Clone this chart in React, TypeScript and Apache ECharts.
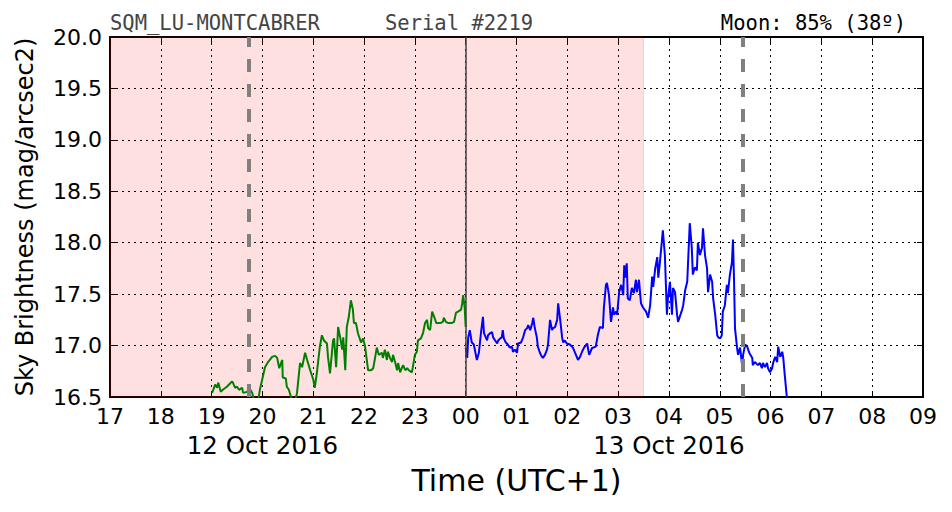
import React, { useEffect, useRef } from 'react';
import * as echarts from 'echarts';

// Hours counted from 00:00 of 12 Oct 2016 (24 = 00:00 of 13 Oct)
const xMin = 17;
const xMax = 33;
const xTickLabels = ['17', '18', '19', '20', '21', '22', '23', '00', '01', '02', '03', '04', '05', '06', '07', '08', '09'];
const dateLabels: Record<number, string> = { 20: '12 Oct 2016', 28: '13 Oct 2016' };
const yMin = 16.5;
const yMax = 20.0;
const yStep = 0.5;

const nightSpan = [17, 27.5];
const dashedMarks = [19.74, 29.46];
const midnightMark = 24;

const titleLeft = 'SQM_LU-MONTCABRER';
const titleSerial = 'Serial #2219';
const titleMoon = 'Moon: 85% (38º)';
const yAxisName = 'Sky Brightness (mag/arcsec2)';
const xAxisName = 'Time (UTC+1)';

const greenData: [number, number][] = [
  [19.01, 16.54], [19.07, 16.62], [19.11, 16.59], [19.13, 16.64], [19.18, 16.55], [19.22, 16.57],
  [19.30, 16.60], [19.40, 16.65], [19.42, 16.64], [19.46, 16.59], [19.50, 16.60], [19.54, 16.57],
  [19.60, 16.59], [19.62, 16.54], [19.70, 16.55], [19.74, 16.59], [19.80, 16.54], [19.83, 16.47],
  [19.91, 16.45], [19.95, 16.57], [20.05, 16.79], [20.11, 16.84], [20.19, 16.89], [20.25, 16.90],
  [20.29, 16.88], [20.33, 16.78], [20.39, 16.86], [20.40, 16.69], [20.46, 16.68], [20.48, 16.60],
  [20.52, 16.57], [20.58, 16.47], [20.64, 16.45], [20.68, 16.54], [20.74, 16.83], [20.78, 16.79],
  [20.84, 16.93], [20.88, 16.86], [20.94, 16.76], [21.00, 16.67], [21.03, 16.59], [21.07, 16.73],
  [21.13, 16.99], [21.17, 17.10], [21.21, 17.05], [21.27, 17.02], [21.29, 16.89], [21.33, 16.73],
  [21.39, 17.05], [21.41, 17.07], [21.45, 16.79], [21.49, 17.18], [21.53, 17.08], [21.57, 16.96],
  [21.59, 17.08], [21.63, 16.76], [21.66, 17.18], [21.70, 17.28], [21.74, 17.44], [21.78, 17.35],
  [21.80, 17.22], [21.84, 17.22], [21.88, 17.12], [21.94, 17.03], [21.98, 17.07], [22.02, 16.99],
  [22.08, 16.76], [22.14, 16.76], [22.18, 16.78], [22.22, 16.89], [22.25, 16.98], [22.29, 16.91],
  [22.35, 16.93], [22.37, 16.88], [22.41, 16.96], [22.45, 16.86], [22.47, 16.94], [22.51, 16.88],
  [22.55, 16.84], [22.57, 16.91], [22.61, 16.84], [22.65, 16.76], [22.67, 16.83], [22.71, 16.74],
  [22.75, 16.79], [22.77, 16.81], [22.81, 16.76], [22.85, 16.78], [22.88, 16.76], [22.94, 16.74],
  [22.96, 16.79], [23.00, 16.91], [23.04, 16.94], [23.06, 17.05], [23.12, 17.07], [23.16, 17.12],
  [23.20, 17.22], [23.24, 17.25], [23.26, 17.17], [23.30, 17.15], [23.34, 17.33], [23.38, 17.28],
  [23.42, 17.22], [23.46, 17.22], [23.51, 17.22], [23.55, 17.23], [23.57, 17.27], [23.61, 17.23],
  [23.65, 17.22], [23.73, 17.22], [23.77, 17.23], [23.81, 17.32], [23.85, 17.33], [23.91, 17.35],
  [23.93, 17.41], [23.95, 17.49], [23.98, 17.37], [24.0, 17.18]
];

const blueData: [number, number][] = [
  [24.00, 16.98], [24.03, 16.88], [24.05, 17.08], [24.08, 17.15], [24.12, 17.03], [24.16, 17.01],
  [24.20, 16.91], [24.22, 16.86], [24.26, 16.93], [24.30, 17.12], [24.34, 17.28], [24.36, 17.12],
  [24.42, 17.05], [24.44, 17.10], [24.48, 17.12], [24.52, 17.13], [24.54, 17.08], [24.58, 17.05],
  [24.62, 17.02], [24.64, 17.05], [24.68, 17.07], [24.71, 17.08], [24.73, 17.15], [24.75, 17.07],
  [24.79, 17.03], [24.83, 17.01], [24.87, 16.98], [24.91, 16.99], [24.93, 16.94], [24.97, 16.96],
  [25.01, 16.93], [25.03, 17.02], [25.09, 17.03], [25.13, 17.08], [25.17, 17.15], [25.21, 17.17],
  [25.23, 17.20], [25.27, 17.15], [25.31, 17.22], [25.33, 17.27], [25.36, 17.17], [25.40, 17.08],
  [25.42, 16.99], [25.46, 16.93], [25.50, 16.89], [25.52, 16.88], [25.56, 16.91], [25.60, 16.96],
  [25.62, 17.01], [25.66, 17.25], [25.70, 17.15], [25.72, 17.17], [25.76, 17.18], [25.80, 17.25],
  [25.82, 17.41], [25.86, 17.25], [25.90, 17.07], [25.92, 17.03], [25.95, 17.05], [25.99, 17.02],
  [26.05, 17.01], [26.11, 16.98], [26.17, 16.91], [26.21, 16.86], [26.25, 16.89], [26.29, 16.94],
  [26.33, 16.98], [26.39, 17.02], [26.43, 16.91], [26.49, 16.98], [26.51, 16.98], [26.56, 16.99],
  [26.60, 17.10], [26.64, 17.18], [26.70, 17.17], [26.72, 17.37], [26.76, 17.59], [26.78, 17.61],
  [26.82, 17.49], [26.86, 17.23], [26.90, 17.37], [26.92, 17.30], [26.96, 17.33], [26.98, 17.30],
  [27.02, 17.52], [27.06, 17.59], [27.10, 17.49], [27.12, 17.78], [27.14, 17.66], [27.17, 17.80],
  [27.19, 17.46], [27.23, 17.44], [27.27, 17.56], [27.31, 17.51], [27.35, 17.64], [27.37, 17.52],
  [27.41, 17.64], [27.45, 17.41], [27.49, 17.37], [27.55, 17.33], [27.59, 17.27], [27.63, 17.39],
  [27.67, 17.67], [27.69, 17.57], [27.73, 17.75], [27.77, 17.86], [27.79, 17.66], [27.82, 17.80],
  [27.86, 18.01], [27.88, 18.12], [27.92, 17.88], [27.96, 17.30], [27.98, 17.46], [28.02, 17.62],
  [28.06, 17.30], [28.08, 17.56], [28.12, 17.52], [28.16, 17.30], [28.18, 17.23], [28.26, 17.35],
  [28.28, 17.39], [28.32, 17.54], [28.36, 17.62], [28.38, 17.85], [28.41, 18.19], [28.45, 17.95],
  [28.47, 17.69], [28.51, 17.76], [28.55, 17.73], [28.57, 18.00], [28.61, 17.88], [28.65, 17.95],
  [28.67, 18.14], [28.71, 17.88], [28.75, 17.75], [28.77, 17.52], [28.81, 17.69], [28.85, 17.62],
  [28.87, 17.46], [28.91, 17.30], [28.95, 17.10], [28.97, 17.08], [29.01, 17.07], [29.04, 17.10],
  [29.06, 17.33], [29.10, 17.39], [29.14, 17.59], [29.16, 17.51], [29.20, 17.69], [29.24, 17.81],
  [29.26, 18.03], [29.28, 17.66], [29.30, 17.17], [29.34, 16.98], [29.36, 16.91], [29.40, 16.98],
  [29.44, 16.81], [29.46, 16.91], [29.50, 17.01], [29.54, 16.99], [29.58, 16.93], [29.64, 16.88],
  [29.65, 16.81], [29.69, 16.84], [29.75, 16.81], [29.79, 16.83], [29.83, 16.78], [29.85, 16.83],
  [29.89, 16.79], [29.93, 16.83], [29.95, 16.78], [29.99, 16.74], [30.03, 16.78], [30.05, 16.83],
  [30.09, 16.89], [30.13, 16.84], [30.15, 16.99], [30.19, 16.89], [30.23, 16.94], [30.25, 16.88],
  [30.28, 16.71], [30.32, 16.50], [30.34, 16.42]
];

const FONT = "'DejaVu Sans', sans-serif";
const MONO = "'DejaVu Sans Mono', monospace";

export default function App() {
  const ref = useRef<HTMLDivElement>(null);
  useEffect(() => {
    if (!ref.current) return;
    const chart = echarts.init(ref.current, undefined, { renderer: 'svg' });
    const hourLabel = (v: number) => {
      const idx = Math.round(v - xMin);
      const t = xTickLabels[idx] ?? '';
      const d = dateLabels[Math.round(v)];
      return d ? `{h|${t}}\n{d|${d}}` : `{h|${t}}`;
    };
    const grid = { left: 110, right: 29, top: 37, bottom: 115 };
    chart.setOption({
      animation: false,
      backgroundColor: '#ffffff',
      grid,
      graphic: [
        { type: 'text', left: 110, top: 12, style: { text: titleLeft, font: `20.5px ${MONO}`, fill: '#444444' } },
        { type: 'text', left: 385, top: 12, style: { text: titleSerial, font: `20.5px ${MONO}`, fill: '#444444' } },
        { type: 'text', right: 46, top: 12, style: { text: titleMoon, font: `20.5px ${MONO}`, fill: '#000000' } },
      ],
      xAxis: [
        {
          type: 'value', min: xMin, max: xMax, interval: 1, position: 'bottom',
          name: xAxisName, nameLocation: 'middle', nameGap: 68,
          nameTextStyle: { fontFamily: FONT, fontSize: 30, color: '#000' },
          axisLine: { show: true, onZero: false, lineStyle: { color: '#000', width: 2 } },
          axisTick: { show: true, inside: true, length: 6, lineStyle: { color: '#000', width: 1 } },
          axisLabel: {
            formatter: hourLabel, color: '#000', margin: 5,
            rich: {
              h: { fontFamily: FONT, fontSize: 22, lineHeight: 28, color: '#000' },
              d: { fontFamily: FONT, fontSize: 24.5, lineHeight: 30, color: '#000' },
            },
          },
          splitLine: { show: true, lineStyle: { color: '#000', type: [2, 4], width: 1 } },
        },
        {
          type: 'value', min: xMin, max: xMax, interval: 1, position: 'top',
          axisLine: { show: true, onZero: false, lineStyle: { color: '#000', width: 2 } },
          axisTick: { show: true, inside: true, length: 6, lineStyle: { color: '#000', width: 1 } },
          axisLabel: { show: false }, splitLine: { show: false },
        },
      ],
      yAxis: [
        {
          type: 'value', min: yMin, max: yMax, interval: yStep, position: 'left',
          name: yAxisName, nameLocation: 'middle', nameGap: 73,
          nameTextStyle: { fontFamily: FONT, fontSize: 24, color: '#000' },
          axisLine: { show: true, onZero: false, lineStyle: { color: '#000', width: 2 } },
          axisTick: { show: true, inside: true, length: 6, lineStyle: { color: '#000', width: 1 } },
          axisLabel: { formatter: (v: number) => v.toFixed(1), fontFamily: FONT, fontSize: 22, color: '#000', margin: 8 },
          splitLine: { show: true, lineStyle: { color: '#000', type: [2, 4], width: 1 } },
        },
        {
          type: 'value', min: yMin, max: yMax, interval: yStep, position: 'right',
          axisLine: { show: true, onZero: false, lineStyle: { color: '#000', width: 2 } },
          axisTick: { show: true, inside: true, length: 6, lineStyle: { color: '#000', width: 1 } },
          axisLabel: { show: false }, splitLine: { show: false },
        },
      ],
      series: [
        {
          type: 'line', data: [], xAxisIndex: 0, yAxisIndex: 0, z: 1, silent: true,
          markArea: {
            silent: true,
            itemStyle: { color: 'rgba(255,0,0,0.12)', borderColor: 'rgba(255,0,0,0.15)', borderWidth: 1 },
            data: [[{ xAxis: nightSpan[0] }, { xAxis: nightSpan[1] }]],
          },
          markLine: {
            silent: true, symbol: 'none', label: { show: false },
            data: [
              ...dashedMarks.map((x) => ({ xAxis: x, lineStyle: { color: '#808080', width: 4, type: [13, 12] } })),
              { xAxis: midnightMark, lineStyle: { color: '#444444', width: 1.5, type: 'solid' } },
            ],
          },
        },
        {
          type: 'line', data: greenData, xAxisIndex: 0, yAxisIndex: 0, showSymbol: false, symbol: 'none',
          clip: true, z: 3, lineStyle: { color: '#008000', width: 2 },
        },
        {
          type: 'line', data: blueData, xAxisIndex: 0, yAxisIndex: 0, showSymbol: false, symbol: 'none',
          clip: true, z: 3, lineStyle: { color: '#0000ff', width: 2 },
        },
      ],
    });
    return () => chart.dispose();
  }, []);
  return <div ref={ref} style={{ width: 952, height: 512, position: 'absolute', left: 0, top: 0 }} />;
}
